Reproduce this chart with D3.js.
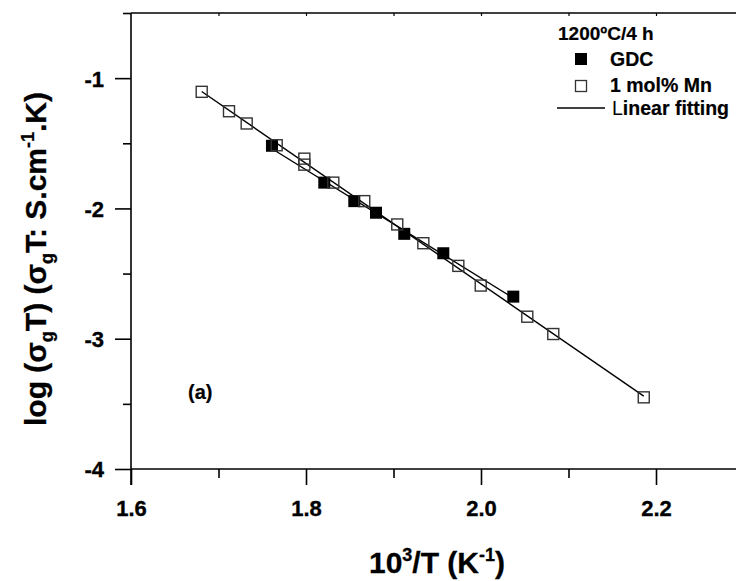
<!DOCTYPE html>
<html><head><meta charset="utf-8">
<script src="https://cdn.jsdelivr.net/npm/d3@7"></script>
<style>
html,body{margin:0;padding:0;background:#fff;}
text{font-family:"Liberation Sans",Arial,sans-serif;font-weight:bold;fill:#000;}
</style></head>
<body>
<svg id="c" width="736" height="581"></svg>
<script>
// Data (x = 10^3/T in K^-1, y = log(sigma_g T))
const gdcX = [1.7611, 1.8209, 1.8552, 1.8800, 1.9123, 1.9569, 2.0369];
const gdcY = [-1.519, -1.802, -1.944, -2.033, -2.195, -2.344, -2.677];
const mnX = [1.6808, 1.7120, 1.7322, 1.7665, 1.7981, 1.7981, 1.8312, 1.8666, 1.9043, 1.9341, 1.9741, 1.9997, 2.0529, 2.0826, 2.1860];
const mnY = [-1.105, -1.254, -1.348, -1.515, -1.618, -1.664, -1.802, -1.944, -2.123, -2.267, -2.441, -2.592, -2.831, -2.964, -3.45];
const xMajor = [1.6, 1.8, 2.0, 2.2];
const xMinor = [1.7, 1.9, 2.1];
const xTopTicks = [1.7, 1.8, 1.9, 2.0, 2.1, 2.2];
const yMajor = [-4, -3, -2, -1];
const yMinor = [-3.5, -2.5, -1.5, -0.5];
const xTickLabels = ["1.6", "1.8", "2.0", "2.2"];
const yTickLabels = ["-4", "-3", "-2", "-1"];
const legendTitle = "1200ºC/4 h";
const seriesNames = ["GDC", "1 mol% Mn", "Linear fitting"];

const svg = d3.select("#c");
const L = 131, R = 736, T = 13, B = 469;
const x = d3.scaleLinear().domain([1.6, 2.2]).range([L, L + 525]);
const y = d3.scaleLinear().domain([-4, -0.5]).range([B, T]);
const FONT = '"Liberation Sans",Arial,sans-serif';

// frame lines
const ax = svg.append("g").attr("stroke", "#000").attr("stroke-width", 1.6);
ax.append("line").attr("x1", L).attr("x2", R).attr("y1", B).attr("y2", B);
ax.append("line").attr("x1", L).attr("x2", R).attr("y1", T).attr("y2", T);
ax.append("line").attr("x1", L).attr("x2", L).attr("y1", T).attr("y2", B + 16);

function styleTickText(sel, size) {
  sel.attr("font-size", size).style("font-family", FONT).style("font-weight", "bold")
    .attr("stroke", "#000").attr("stroke-width", 0.35);
}

// bottom axis
const bottom = svg.append("g").attr("transform", `translate(0,${B})`)
  .call(d3.axisBottom(x).tickValues(xMajor).tickSize(16).tickFormat((d, i) => xTickLabels[i]));
bottom.select(".domain").remove();
bottom.selectAll(".tick line").attr("stroke-width", 1.6);
styleTickText(bottom.selectAll(".tick text").attr("dy", 0).attr("y", 47), 22);
const bottomMinor = svg.append("g").attr("transform", `translate(0,${B})`)
  .call(d3.axisBottom(x).tickValues(xMinor).tickSize(9).tickFormat(""));
bottomMinor.select(".domain").remove();
bottomMinor.selectAll(".tick line").attr("stroke-width", 1.6);

// left axis
const left = svg.append("g").attr("transform", `translate(${L},0)`)
  .call(d3.axisLeft(y).tickValues(yMajor).tickSize(16).tickFormat((d, i) => yTickLabels[i]));
left.select(".domain").remove();
left.selectAll(".tick line").attr("stroke-width", 1.6);
styleTickText(left.selectAll(".tick text").attr("x", -27).attr("dy", "0.36em"), 22);
const leftMinor = svg.append("g").attr("transform", `translate(${L},0)`)
  .call(d3.axisLeft(y).tickValues(yMinor).tickSize(8).tickFormat(""));
leftMinor.select(".domain").remove();
leftMinor.selectAll(".tick line").attr("stroke-width", 1.6);

// top axis small ticks
const topAx = svg.append("g").attr("transform", `translate(0,${T})`)
  .call(d3.axisBottom(x).tickValues(xTopTicks).tickSize(3).tickFormat(""));
topAx.select(".domain").remove();
topAx.selectAll(".tick line").attr("stroke-width", 1.2);

// fits
function fit(xs, ys) {
  const mx = d3.mean(xs), my = d3.mean(ys);
  let sxy = 0, sxx = 0;
  xs.forEach((v, i) => { sxy += (v - mx) * (ys[i] - my); sxx += (v - mx) * (v - mx); });
  const b = sxy / sxx, a = my - b * mx;
  const x0 = d3.min(xs), x1 = d3.max(xs);
  return [[x0, a + b * x0], [x1, a + b * x1]];
}
const lineGen = d3.line().x(d => x(d[0])).y(d => y(d[1]));
[fit(mnX, mnY), fit(gdcX, gdcY)].forEach(seg => {
  svg.append("path").attr("d", lineGen(seg)).attr("fill", "none").attr("stroke", "#000").attr("stroke-width", 1.4);
});

const S = 12;
// GDC filled
svg.append("g").selectAll("rect").data(gdcX.map((v, i) => [v, gdcY[i]])).join("rect")
  .attr("x", d => x(d[0]) - S / 2).attr("y", d => y(d[1]) - S / 2).attr("width", S).attr("height", S)
  .attr("fill", "#000");
// Mn open
svg.append("g").selectAll("rect").data(mnX.map((v, i) => [v, mnY[i]])).join("rect")
  .attr("x", d => x(d[0]) - S / 2 + 0.5).attr("y", d => y(d[1]) - S / 2 + 0.5).attr("width", S - 1).attr("height", S - 1)
  .attr("fill", "none").attr("stroke", "#333").attr("stroke-width", 1.4);

// legend
const lg = svg.append("g");
lg.append("text").attr("x", 558).attr("y", 39.5).attr("font-size", 19).attr("stroke", "#000").attr("stroke-width", 0.2).text(legendTitle);
lg.append("rect").attr("x", 575).attr("y", 53).attr("width", 12).attr("height", 12).attr("fill", "#000");
lg.append("text").attr("x", 610).attr("y", 66).attr("font-size", 19.5).attr("stroke", "#000").attr("stroke-width", 0.2).text(seriesNames[0]);
lg.append("rect").attr("x", 575.5).attr("y", 80.5).attr("width", 11).attr("height", 11).attr("fill", "none").attr("stroke", "#333").attr("stroke-width", 1.3);
lg.append("text").attr("x", 610).attr("y", 92).attr("font-size", 19.5).attr("stroke", "#000").attr("stroke-width", 0.2).text(seriesNames[1]);
lg.append("line").attr("x1", 557).attr("x2", 605).attr("y1", 108).attr("y2", 108).attr("stroke", "#000").attr("stroke-width", 1.3);
const lt = lg.append("text").attr("x", 612).attr("y", 115).attr("font-size", 19.5);
lt.append("tspan").style("font-weight", "normal").text(seriesNames[2].charAt(0));
lt.append("tspan").attr("stroke", "#000").attr("stroke-width", 0.2).text(seriesNames[2].slice(1));

// panel label
svg.append("text").attr("x", 188).attr("y", 399).attr("font-size", 20).attr("stroke", "#000").attr("stroke-width", 0.2).text("(a)");

// x title
const xt = svg.append("text").attr("x", 437).attr("y", 573).attr("text-anchor", "middle").attr("font-size", 30)
  .attr("stroke", "#000").attr("stroke-width", 0.3);
xt.append("tspan").text("10");
xt.append("tspan").attr("font-size", 18).attr("dy", -12).text("3");
xt.append("tspan").attr("dy", 12).text("/T (K");
xt.append("tspan").attr("font-size", 18).attr("dy", -12).text("-1");
xt.append("tspan").attr("dy", 12).text(")");

// y title
const yt = svg.append("text").attr("transform", "translate(46,259) rotate(-90)").attr("text-anchor", "middle").attr("font-size", 30)
  .attr("stroke", "#000").attr("stroke-width", 0.3);
yt.append("tspan").text("log (σ");
yt.append("tspan").attr("font-size", 18).attr("dy", 7).text("g");
yt.append("tspan").attr("dy", -7).text("T) (σ");
yt.append("tspan").attr("font-size", 18).attr("dy", 7).text("g");
yt.append("tspan").attr("dy", -7).text("T: S.cm");
yt.append("tspan").attr("font-size", 18).attr("dy", -12).text("-1");
yt.append("tspan").attr("dy", 12).text(".K)");
</script>
</body></html>
